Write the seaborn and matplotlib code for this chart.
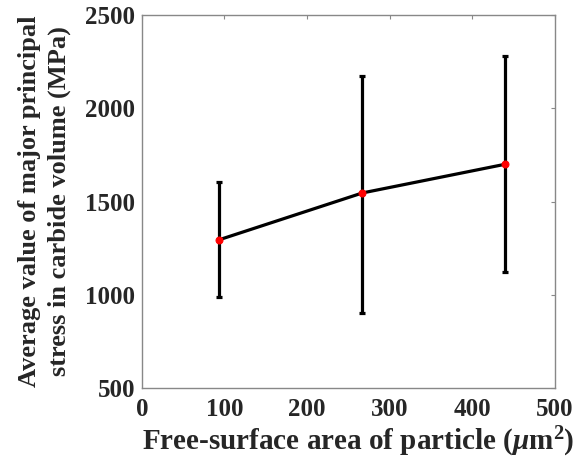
import matplotlib
matplotlib.use("Agg")
import matplotlib.pyplot as plt
import seaborn as sns
import pandas as pd

area = [93, 267, 440]
stress_mean = [1294, 1546, 1700]
stress_low = [988, 902, 1122]
stress_high = [1606, 2175, 2282]
xticks = [0, 100, 200, 300, 400, 500]
yticks = [500, 1000, 1500, 2000, 2500]

sns.set_theme(style="white")
plt.rcParams['font.family'] = ['Liberation Serif', 'DejaVu Serif']
plt.rcParams['font.weight'] = 'bold'
plt.rcParams['mathtext.fontset'] = 'custom'
plt.rcParams['mathtext.rm'] = 'Liberation Serif:bold'
plt.rcParams['mathtext.it'] = 'Liberation Serif:italic:bold'
plt.rcParams['mathtext.bf'] = 'Liberation Serif:bold'

df = pd.DataFrame({"area": area, "stress": stress_mean})

fig = plt.figure(figsize=(5.84, 4.58), dpi=100)
ax = fig.add_axes([0.243, 0.153, 0.707, 0.814])

lower = [m - l for m, l in zip(stress_mean, stress_low)]
upper = [h - m for m, h in zip(stress_mean, stress_high)]
ax.errorbar(area, stress_mean, yerr=[lower, upper], fmt='none', ecolor='black',
            elinewidth=2.3, capsize=2.5, capthick=2.3, zorder=2)
sns.lineplot(data=df, x="area", y="stress", ax=ax, color='black', linewidth=2.3,
             marker='o', markersize=5, markerfacecolor='red', markeredgecolor='red',
             zorder=3)

ax.set_xlim(0, 500)
ax.set_ylim(500, 2500)
ax.set_xticks(xticks)
ax.set_yticks(yticks)
ax.tick_params(axis='both', which='both', direction='in', length=3, width=0.8,
               color='#888888', labelsize=18, top=True, right=True, pad=5)
ax.tick_params(axis='x', pad=7)
for lab in ax.get_xticklabels() + ax.get_yticklabels():
    lab.set_fontweight('bold')
for sp in ax.spines.values():
    sp.set_color('#888888')
    sp.set_linewidth(1.0)

ax.set_xlabel(r"Free-surface area of particle ($\mu$m$^{2}$)", fontsize=21,
              fontweight='bold', labelpad=0)
ax.xaxis.set_label_coords(0.525, -0.1)
ax.xaxis.label.set_verticalalignment('top')
ax.set_ylabel("Average value of major principal\nstress in carbide volume (MPa)",
              fontsize=19, fontweight='bold', labelpad=10, linespacing=1.35)

fig.savefig("out.png", dpi=100)
